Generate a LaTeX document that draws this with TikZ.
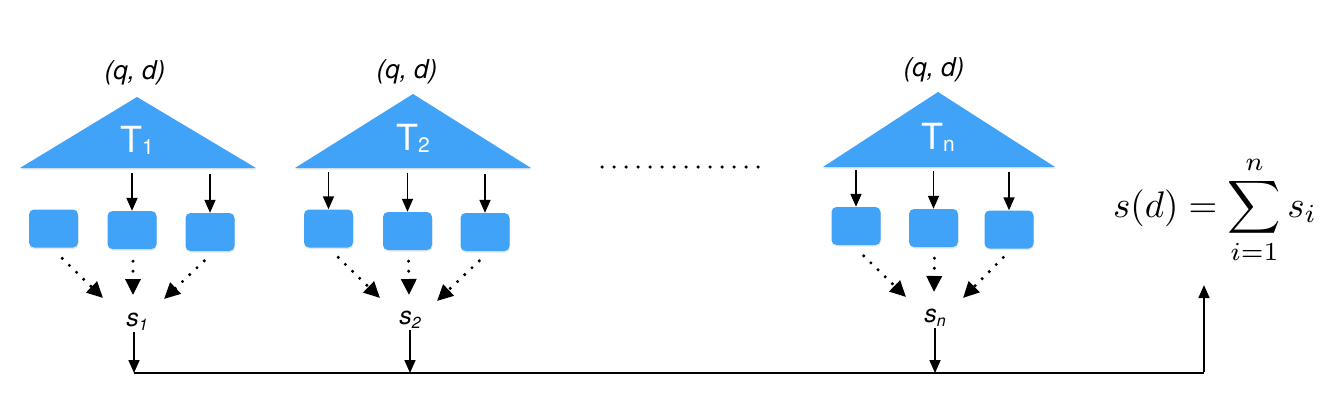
\documentclass[tikz,border=0pt]{standalone}
\usepackage[no-math]{fontspec}
\newfontfamily\helv{TeX Gyre Heros}
\usetikzlibrary{arrows.meta,calc,shadows}

\definecolor{treeblue}{RGB}{64,163,247}

\newcommand{\tlabel}[1]{T\raisebox{-2pt}{\fontsize{21}{21}\selectfont #1}}
\newcommand{\slabel}[1]{s\raisebox{-4pt}{\fontsize{16}{16}\selectfont #1}}

\tikzset{
  tree/.style={fill=treeblue, drop shadow={shadow xshift=0.5pt, shadow yshift=-1.5pt, opacity=0.2}},
  leaf/.style={rectangle, rounded corners=5pt, fill=treeblue, minimum width=49pt, minimum height=38pt, inner sep=0pt,
    drop shadow={shadow xshift=0.5pt, shadow yshift=-1.5pt, opacity=0.2}},
  treelabel/.style={text=white, font=\helv\fontsize{36}{36}\selectfont},
  pairlabel/.style={font=\helv\itshape\fontsize{26}{26}\selectfont},
  scorelabel/.style={font=\helv\itshape\fontsize{25}{25}\selectfont, inner sep=1pt},
  sumlabel/.style={scale=3.7, transform shape, inner sep=0pt},
  solidarrow/.style={->, >={Triangle[length=13pt,width=11pt]}, line width=1.7pt},
  dotarrow/.style={->, >={Triangle[length=16pt,width=15pt]}, line width=3.4pt, line cap=round,
    dash pattern=on 0pt off 10pt, shorten <=1pt},
  busline/.style={line width=2.2pt},
}

\begin{document}
\begin{tikzpicture}[x=1pt,y=-1pt]

        \useasboundingbox (0,0) rectangle (1333,401);

        \coordinate (bus) at (0,373);
        \coordinate (busend) at (1204,373);

        % tree 1
        \fill[tree] (137,97) -- (20,168) -- (256,168) -- cycle;
        \node (q1) at (135,73)[pairlabel]{(q, d)};
        \node (t1) at (137,140)[treelabel]{\tlabel{1}};
        \coordinate (t1base) at (0,173);

        \node (b11) at (53.5,228.5)[leaf]{};
        \node (b12) at (132,230)[leaf]{};
        \node (b13) at (210,232)[leaf]{};

        \draw[solidarrow] (b12.north |- t1base) -- (b12.north);
        \draw[solidarrow] ([yshift=-1pt]b13.north |- t1base) -- (b13.north);

        \node (s1) at (137,322)[scorelabel]{\slabel{1}};

        \draw[dotarrow] ($(b11.south)+(8,10)$) -- ($(s1)+(-34,-24)$);
        \draw[dotarrow] ($(b12.south)+(1,11)$) -- ($(s1)+(-4,-27)$);
        \draw[dotarrow] ($(b13.south)+(-5,9)$) -- ($(s1)+(27,-23)$);

        \draw[solidarrow] ([xshift=-3pt]s1.south) -- ([xshift=-3pt]s1.south |- bus);

        % tree 2
        \fill[tree] (413,94) -- (295,168) -- (531,168) -- cycle;
        \node (q2) at (407,72)[pairlabel]{(q, d)};
        \node (t2) at (413,138)[treelabel]{\tlabel{2}};
        \coordinate (t2base) at (0,172);

        \node (b21) at (328.5,228.5)[leaf]{};
        \node (b22) at (407.5,231)[leaf]{};
        \node (b23) at (485,232)[leaf]{};

        \draw[solidarrow] (b21.north |- t2base) -- (b21.north);
        \draw[solidarrow] ([yshift=-1pt]b22.north |- t2base) -- (b22.north);
        \draw[solidarrow] ([yshift=-2pt]b23.north |- t2base) -- (b23.north);

        \node (s2) at (410,320)[scorelabel]{\slabel{2}};

        \draw[dotarrow] ($(b21.south)+(9,9)$) -- ($(s2)+(-30,-22)$);
        \draw[dotarrow] ($(b22.south)+(1,10)$) -- ($(s2)+(-1,-25)$);
        \draw[dotarrow] ($(b23.south)+(-5,9)$) -- ($(s2)+(27,-19)$);

        \draw[solidarrow] (s2.south) -- (s2.south |- bus);

        % gap between the trees
        \draw[line width=3.5pt, line cap=round, dash pattern=on 0pt off 12pt] (602,167) -- (758,167);

        % tree n
        \fill[tree] (938,92) -- (823,167) -- (1055,167) -- cycle;
        \node (qn) at (934,70)[pairlabel]{(q, d)};
        \node (tn) at (938,137)[treelabel]{\tlabel{n}};
        \coordinate (tnbase) at (0,170);

        \node (bn1) at (856,226)[leaf]{};
        \node (bn2) at (933.5,228)[leaf]{};
        \node (bn3) at (1009,229.5)[leaf]{};

        \draw[solidarrow] (bn1.north |- tnbase) -- (bn1.north);
        \draw[solidarrow] ([yshift=-1pt]bn2.north |- tnbase) -- (bn2.north);
        \draw[solidarrow] ([yshift=-2pt]bn3.north |- tnbase) -- (bn3.north);

        \node (sn) at (935,318)[scorelabel]{\slabel{n}};

        \draw[dotarrow] ($(bn1.south)+(7,10)$) -- ($(sn)+(-29,-21)$);
        \draw[dotarrow] ($(bn2.south)+(1,10)$) -- ($(sn)+(-1,-26)$);
        \draw[dotarrow] ($(bn3.south)+(-5,8)$) -- ($(sn)+(28,-20)$);

        \draw[solidarrow] (sn.south) -- (sn.south |- bus);

        % sum of the scores
        \node (sum) at (1215,217)[anchor=base, sumlabel]{$\displaystyle s(d)=\sum_{i=1}^{n} s_i$};

        \draw[busline] ([xshift=-3pt]s1.south |- bus) -- (busend);
        \draw[solidarrow] ([yshift=0.8pt]busend) -- ([yshift=-20pt]busend |- sum.south);

\end{tikzpicture}
\end{document}
